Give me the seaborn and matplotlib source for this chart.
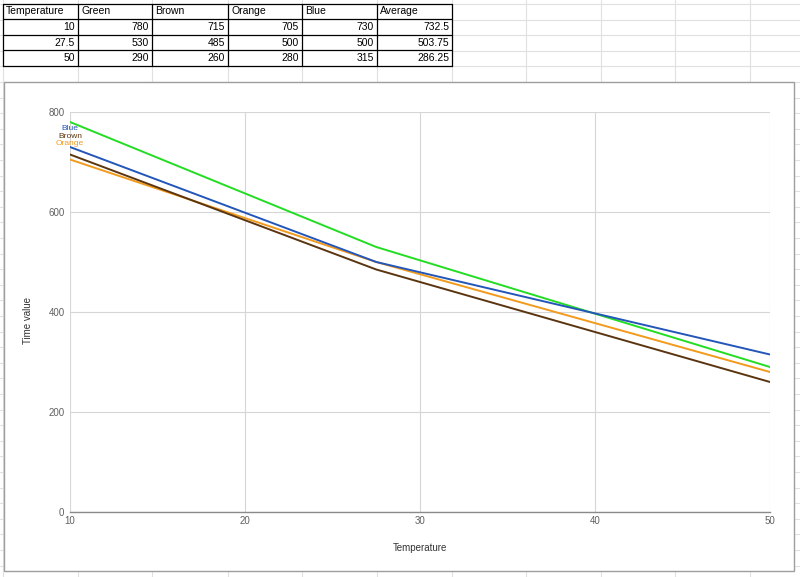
import matplotlib
matplotlib.use("Agg")
import matplotlib.pyplot as plt
import seaborn as sns
import pandas as pd
from matplotlib.lines import Line2D
from matplotlib.patches import Rectangle

# ---- data ----
temperature = [10, 27.5, 50]
green = [780, 530, 290]
brown = [715, 485, 260]
orange = [705, 500, 280]
blue = [730, 500, 315]
average = [732.5, 503.75, 286.25]
header = ["Temperature", "Green", "Brown", "Orange", "Blue", "Average"]
temp_labels = ["10", "27.5", "50"]
x_ticks = [10, 20, 30, 40, 50]
y_ticks = [0, 200, 400, 600, 800]

sns.set_theme(style="white")
plt.rcParams['font.family'] = ['Liberation Sans', 'DejaVu Sans']

W, H = 800, 577
fig = plt.figure(figsize=(8, 5.77), dpi=100)
fig.patch.set_facecolor("white")

def fx(px):
    return px / W

def fy(py):
    return 1 - py / H

# spreadsheet background grid
grid_c = "#e0e0e0"
col_x = [3, 78, 152, 228, 302, 377, 452, 526, 601, 675, 750]
for x in col_x:
    fig.add_artist(Line2D([fx(x), fx(x)], [0, 1], color=grid_c, lw=0.8, transform=fig.transFigure, zorder=0))
y = 4
while y < H:
    fig.add_artist(Line2D([0, 1], [fy(y), fy(y)], color=grid_c, lw=0.8, transform=fig.transFigure, zorder=0))
    y += 15.6

# table
tab_cols = [3, 78, 152, 228, 302, 377, 452]
tab_rows = [4, 19, 35, 50, 66]
fig.add_artist(Rectangle((fx(3), fy(66)), fx(452 - 3), (66 - 4) / H, facecolor="white",
                         edgecolor="none", transform=fig.transFigure, zorder=1))
for x in tab_cols:
    fig.add_artist(Line2D([fx(x), fx(x)], [fy(4), fy(66)], color="black", lw=0.9, transform=fig.transFigure, zorder=2))
for yy in tab_rows:
    fig.add_artist(Line2D([fx(3), fx(452)], [fy(yy), fy(yy)], color="black", lw=0.9, transform=fig.transFigure, zorder=2))

tfs = 7.5
for i, h in enumerate(header):
    fig.text(fx(tab_cols[i] + 3), fy((tab_rows[0] + tab_rows[1]) / 2), h, ha="left", va="center",
             fontsize=tfs, color="black", zorder=3)
series_cols = [temp_labels,
               [str(v) for v in green], [str(v) for v in brown], [str(v) for v in orange],
               [str(v) for v in blue], [f"{v:g}" for v in average]]
for c, vals in enumerate(series_cols):
    for r, v in enumerate(vals):
        fig.text(fx(tab_cols[c + 1] - 3), fy((tab_rows[r + 1] + tab_rows[r + 2]) / 2), v,
                 ha="right", va="center", fontsize=tfs, color="black", zorder=3)

# chart box
fig.add_artist(Rectangle((fx(4), fy(571)), fx(794 - 4), (571 - 82) / H, facecolor="white",
                         edgecolor="#9e9e9e", lw=1.0, transform=fig.transFigure, zorder=1))

ax = fig.add_axes([fx(70), fy(512), fx(700), 400 / H])
ax.set_zorder(5)
ax.patch.set_alpha(0)

df = pd.DataFrame({
    "Temperature": temperature * 4,
    "value": green + brown + orange + blue,
    "series": ["Green"] * 3 + ["Brown"] * 3 + ["Orange"] * 3 + ["Blue"] * 3,
})
palette = {"Green": "#22dd22", "Brown": "#5b3510", "Orange": "#f29a1c", "Blue": "#2356b8"}
sns.lineplot(data=df, x="Temperature", y="value", hue="series", palette=palette,
             hue_order=["Orange", "Brown", "Green", "Blue"], lw=1.4, ax=ax, legend=False)

ax.set_xlim(10, 50)
ax.set_ylim(0, 800)
ax.set_xticks(x_ticks)
ax.set_yticks(y_ticks)
ax.grid(True, color="#d6d6d6", lw=0.8)
for s in ["top", "right", "left"]:
    ax.spines[s].set_visible(False)
ax.spines["bottom"].set_color("#8a8a8a")
ax.spines["bottom"].set_linewidth(1.0)
ax.tick_params(axis="both", length=0, labelsize=7, labelcolor="#606060")
ax.tick_params(axis="y", pad=4)
ax.tick_params(axis="x", pad=3)
ax.set_xlabel("Temperature", fontsize=7, color="#333333")
ax.set_ylabel("Time value", fontsize=7, color="#333333")
ax.xaxis.set_label_coords(0.5, -0.078)
ax.yaxis.set_label_coords(-0.053, 0.48)

# inline labels at start of lines (tightly stacked, as in the reference)
for name, yf in [("Blue", 0.958), ("Brown", 0.94), ("Orange", 0.922)]:
    ax.text(0.0, yf, name, transform=ax.transAxes, ha="center", va="center",
            fontsize=6, color=palette[name], clip_on=False)

fig.savefig("out.png", dpi=100)
